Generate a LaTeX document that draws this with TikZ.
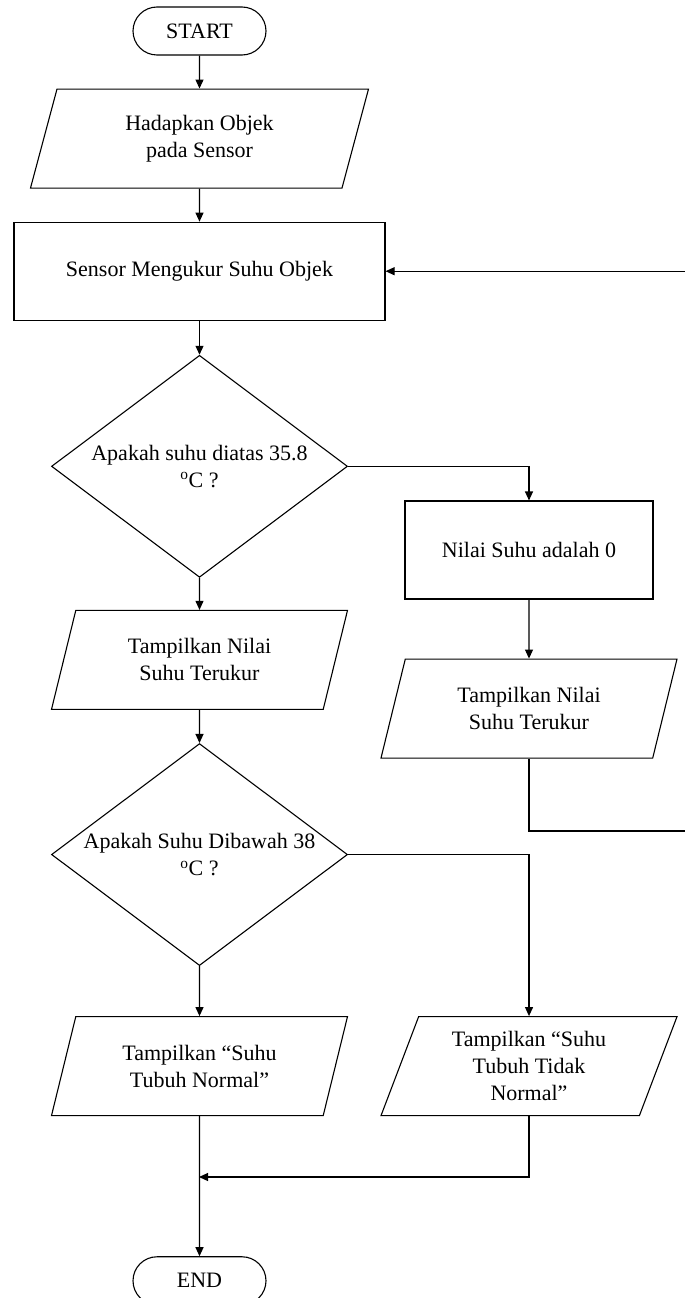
\documentclass[tikz,border=0pt]{standalone}
\usepackage{fontspec}
\setmainfont{Liberation Serif}
\usetikzlibrary{arrows.meta,positioning,shapes.geometric}

\begin{document}
\begin{tikzpicture}[x=1pt, y=-1pt,
  font=\fontsize{22}{27}\selectfont,
  node distance=33pt,
  term/.style={draw, rounded corners=24pt, minimum width=133pt, minimum height=48pt, line width=1.1pt},
  io/.style={draw, trapezium, trapezium left angle=63.7, trapezium right angle=116.3, trapezium stretches body, minimum width=338pt, minimum height=99pt, align=center, line width=1.1pt},
  proc/.style={draw, rectangle, align=center, minimum height=98pt, line width=1.1pt},
  cond/.style={draw, diamond, aspect=1.333, inner sep=0pt, minimum width=296pt, minimum height=222pt, align=center, line width=1.1pt},
  arr/.style={-{Triangle[length=9pt, width=8pt]}, line width=1.1pt}]
\useasboundingbox (0,0) rectangle (685,1298);
\node[term] (start) at (199.5,31) {START};
\node[io, below=of start] (face) {Hadapkan Objek\\pada Sensor};
\node[proc, minimum width=371pt, below=of face] (measure) {Sensor Mengukur Suhu Objek};
\node[cond, below=34pt of measure] (check1) {Apakah suhu diatas 35.8\\\textsuperscript{o}C ?};
\node[io, minimum width=296pt, below=32pt of check1] (showL) {Tampilkan Nilai\\Suhu Terukur};
\node[cond, below=of showL] (check2) {Apakah Suhu Dibawah 38\\\textsuperscript{o}C ?};
\node[io, minimum width=296pt, below=50pt of check2] (normal) {Tampilkan “Suhu\\Tubuh Normal”};
\node[term, below=140pt of normal] (end) {END};
\node[proc, minimum width=248pt] (zero) at (529,550) {Nilai Suhu adalah 0};
\node[io, minimum width=296pt, below=59pt of zero] (showR) {Tampilkan Nilai\\Suhu Terukur};
\node[io, minimum width=296pt] (abnormal) at (normal -| zero) {Tampilkan “Suhu\\Tubuh Tidak\\Normal”};
\coordinate (loopturn) at (688,831);
\coordinate (merge) at (199,1177);
\draw[arr] (start) -- (face); \draw[arr] (face) -- (measure); \draw[arr] (measure) -- (check1);
\draw[arr] (check1) -- (showL); \draw[arr] (showL) -- (check2); \draw[arr] (check2) -- (normal);
\draw[arr] (normal) -- (end);
\draw[arr] (check1.east) -| (zero.north); \draw[arr] (zero) -- (showR);
\draw[arr] (showR.south) |- (loopturn) |- (measure.east);
\draw[arr] (check2.east) -| (abnormal.north);
\draw[arr] (abnormal.south) |- (merge);
\end{tikzpicture}
\end{document}
